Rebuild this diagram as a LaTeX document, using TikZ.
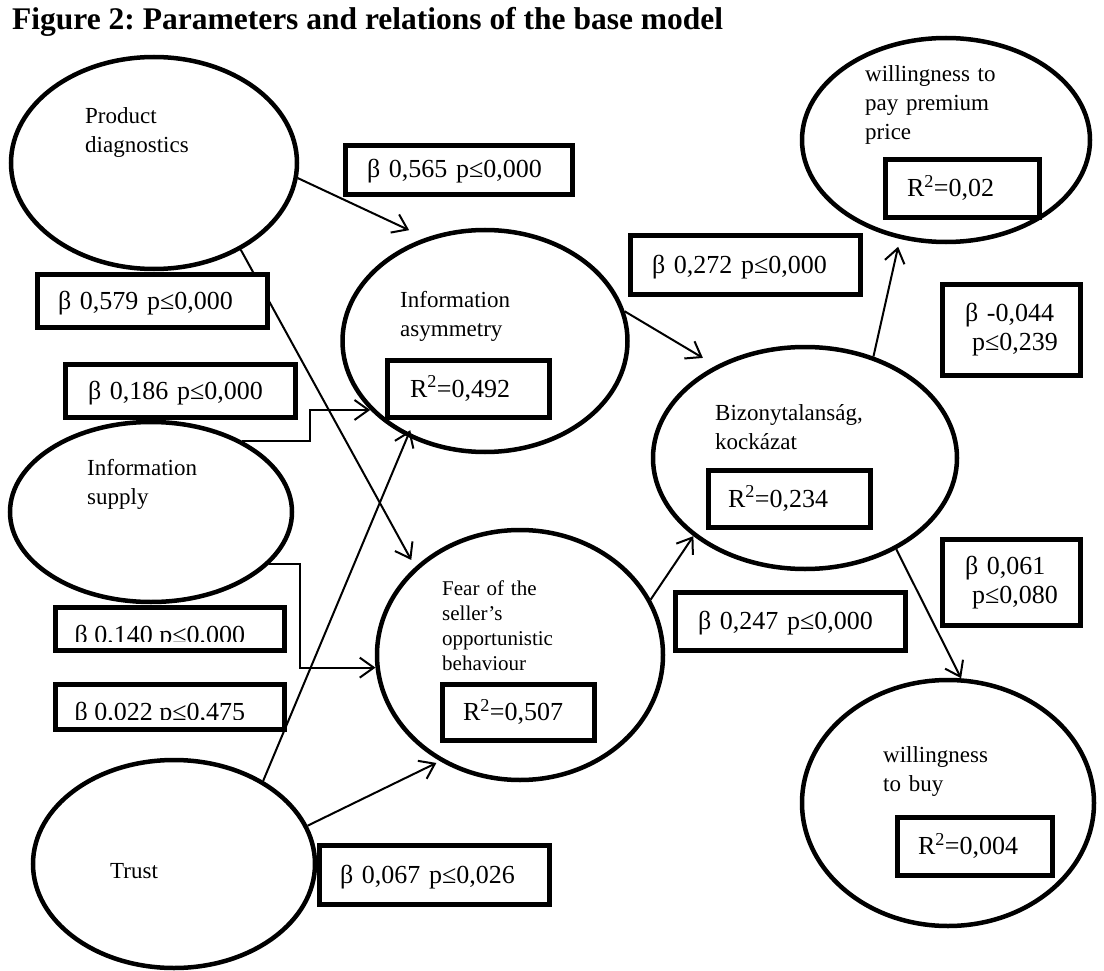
\documentclass[tikz,border=0pt]{standalone}
\usepackage{fontspec}
\setmainfont{Liberation Serif}
\usetikzlibrary{shapes.geometric,arrows.meta}
\frenchspacing
\newcommand\figTitleFont{\fontsize{31.5}{36}\selectfont\bfseries}
\newcommand\betaFont{\fontsize{26}{29}\selectfont}
\newcommand\ellFont{\fontsize{23}{29}\selectfont}
\newcommand\fearFont{\fontsize{21}{25}\selectfont}
\begin{document}
\begin{tikzpicture}[x=1pt,y=-1pt,
  ell/.style={draw, ellipse, line width=4.5pt, inner sep=0pt},
  bx/.style={draw, line width=5pt, fill=white, align=left, inner ysep=0pt, font=\betaFont},
  one/.style={text height=20pt, text depth=4pt},
  arr/.style={-{Straight Barb[length=14pt,width=20pt]}, line width=2pt, line join=miter},
  lab/.style={anchor=base west, inner sep=0pt, align=left, text width=200pt, font=\ellFont},
]
\useasboundingbox (0,0) rectangle (1104,971);

% title
\node[anchor=base west, inner sep=0pt, font=\figTitleFont] (title) at (12,30)
  {Figure 2: Parameters and relations of the base model};

% ellipses
\node[ell, minimum width=286pt, minimum height=212pt] (PD)    at (154,163) {};
\node[ell, minimum width=282pt, minimum height=180pt] (IS)    at (151,512) {};
\node[ell, minimum width=282pt, minimum height=208pt] (Trust) at (174,864) {};
\node[ell, minimum width=285pt, minimum height=222pt] (IA)    at (485,341) {};
\node[ell, minimum width=286pt, minimum height=250pt] (Fear)  at (520,655) {};
\node[ell, minimum width=304pt, minimum height=222pt] (Biz)   at (805,458) {};
\node[ell, minimum width=288pt, minimum height=204pt] (WTP)   at (946,140) {};
\node[ell, minimum width=292pt, minimum height=246pt] (WTB)   at (948,803) {};

% ellipse labels
\node[lab] (PDt)    at (85,124)  {Product\\diagnostics};
\node[lab] (ISt)    at (87,475)  {Information\\supply};
\node[lab] (Trustt) at (110,878) {Trust};
\node[lab] (IAt)    at (400,307) {Information\\asymmetry};
\node[lab, font=\fearFont] (Feart) at (442,595) {Fear of the\\seller’s\\opportunistic\\behaviour};
\node[lab] (Bizt)   at (715,420) {Bizonytalanság,\\kockázat};
\node[lab] (WTPt)   at (865,82)  {willingness to\\pay premium\\price};
\node[lab] (WTBt)   at (883,762) {willingness\\to buy};

% connectors
\draw[arr, shorten >=18pt] (PD.-6) -- (IA.120);
\draw[arr, shorten >=8pt] (PD.-45) -- (Fear.140);
\draw[arr] (IS.38) -- ++(68,0) |- (IA.211);
\draw[arr] (IS.-24) -- ++(31,0) |- (Fear.185);
\draw[arr, shorten >=-7pt] (Trust.43) -- (IA.231);
\draw[arr, shorten >=4pt] (Trust.16) -- (Fear.233);
\draw[arr, shorten >=15pt] (IA.12) -- (Biz.134);
\draw[arr] (Fear.23) -- (Biz.215);
\draw[arr, shorten >=8pt] (Biz.56) -- (WTP.245);
\draw[arr] (Biz.-45) -- (WTB.84);

% coefficient boxes
\node[bx, one, minimum height=49pt, text width=184pt, inner xsep=21.5pt] (b565) at (459,170) {\mbox{β 0,565 p≤0,000}};
\node[bx, one, minimum height=53pt, text width=189pt, inner xsep=20.5pt] (b579) at (152.5,301) {\mbox{β 0,579 p≤0,000}};
\node[bx, one, minimum height=53pt, text width=185pt, inner xsep=22.5pt] (b186) at (180.5,391) {\mbox{β 0,186 p≤0,000}};
\node[bx, minimum width=229pt, minimum height=43pt] (b140) at (170,629) {};
\node[bx, minimum width=229pt, minimum height=45pt] (b022) at (170,707) {};
\node[bx, one, minimum height=59pt, text width=189pt, inner xsep=20.5pt] (b067) at (434.5,875) {\mbox{β 0,067 p≤0,026}};
\node[bx, one, minimum height=59pt, text width=187pt, inner xsep=21.5pt] (b272) at (745.5,265) {\mbox{β 0,272 p≤0,000}};
\node[bx, one, minimum height=58pt, text width=185pt, inner xsep=22.5pt] (b247) at (790.5,621.5) {\mbox{β 0,247 p≤0,000}};
\node[bx, minimum height=91pt, text width=93pt, inner xsep=22.5pt] (b044) at (1011.5,330)
  {\makebox[0pt][l]{β -0,044}\\\makebox[0pt][l]{\hspace{7pt}p≤0,239}};
\node[bx, minimum height=86pt, text width=93pt, inner xsep=22.5pt] (b061) at (1011.5,582.5)
  {\makebox[0pt][l]{β 0,061}\\\makebox[0pt][l]{\hspace{7pt}p≤0,080}};

% clipped texts of two boxes
\begin{scope}
  \clip (b140.north west) rectangle ([yshift=11.5pt]b140.south east);
  \node[anchor=base west, inner sep=0pt, font=\betaFont] (t140) at ([xshift=21.5pt,yshift=9.5pt]b140.south west) {β 0,140 p≤0,000};
\end{scope}
\begin{scope}
  \clip (b022.north west) rectangle ([yshift=12.5pt]b022.south east);
  \node[anchor=base west, inner sep=0pt, font=\betaFont] (t022) at ([xshift=21.5pt,yshift=11.5pt]b022.south west) {β 0,022 p≤0,475};
\end{scope}

% R^2 boxes
\node[bx, one, minimum height=57pt, text width=117pt, inner xsep=22.5pt] (rIA)   at (468.5,389)   {\mbox{R\textsuperscript{2}=0,492}};
\node[bx, one, minimum height=56pt, text width=111pt, inner xsep=20.5pt] (rFear) at (518.5,712.5) {\mbox{R\textsuperscript{2}=0,507}};
\node[bx, one, minimum height=57pt, text width=123pt, inner xsep=19.5pt] (rBiz)  at (789.5,499)   {\mbox{R\textsuperscript{2}=0,234}};
\node[bx, one, minimum height=58pt, text width=111pt, inner xsep=21.5pt] (rWTP)  at (962.5,188.5) {\mbox{R\textsuperscript{2}=0,02}};
\node[bx, one, minimum height=58pt, text width=114pt, inner xsep=20.5pt] (rWTB)  at (975,846.5)   {\mbox{R\textsuperscript{2}=0,004}};
\end{tikzpicture}
\end{document}
